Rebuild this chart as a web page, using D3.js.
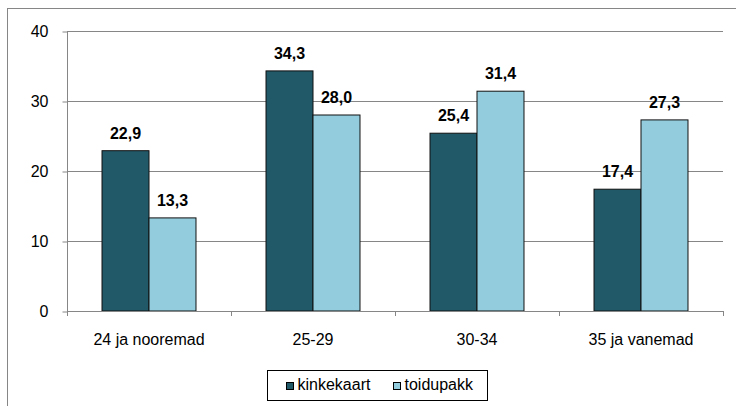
<!DOCTYPE html>
<html>
<head>
<meta charset="utf-8">
<script src="https://cdn.jsdelivr.net/npm/d3@7"></script>
<style>
  body { margin: 0; background: #fff; }
  svg text { font-family: "Liberation Sans", Arial, sans-serif; }
</style>
</head>
<body>
<div id="chart"></div>
<script>
var categories = ["24 ja nooremad", "25-29", "30-34", "35 ja vanemad"];
var seriesNames = ["kinkekaart", "toidupakk"];
var kinkekaart = [22.9, 34.3, 25.4, 17.4];
var toidupakk = [13.3, 28.0, 31.4, 27.3];
var yTicks = [0, 10, 20, 30, 40];
var colors = ["#215968", "#93CDDD"];

var width = 736, height = 406;
// plot area edges (note: "top" is reserved on window, so use a prefix)
var plotLeft = 67, plotRight = 723, plotTop = 31, plotBottom = 311;
var fontSize = 16;

var svg = d3.select("#chart").append("svg")
  .attr("width", width)
  .attr("height", height);

// outer chart border (runs off the right / bottom edge)
svg.append("rect")
  .attr("x", 7.5).attr("y", 8.5)
  .attr("width", 740).attr("height", 410)
  .attr("fill", "none")
  .attr("stroke", "#868686");

var x = d3.scaleBand().domain(categories).range([plotLeft, plotRight]);
var inner = d3.scaleBand().domain(seriesNames).range([0, x.bandwidth()]).paddingInner(0).paddingOuter(0.745);
var y = d3.scaleLinear().domain([0, 40]).range([plotBottom, plotTop]);

// gridlines
svg.selectAll("line.grid")
  .data(yTicks.filter(function(d) { return d > 0; }))
  .enter().append("line")
  .attr("class", "grid")
  .attr("x1", plotLeft).attr("x2", plotRight)
  .attr("y1", function(d) { return Math.round(y(d)) + 0.5; })
  .attr("y2", function(d) { return Math.round(y(d)) + 0.5; })
  .attr("stroke", "#868686");

// y axis
var yAxis = svg.append("g")
  .attr("transform", "translate(" + (plotLeft + 0.5) + ",0.5)")
  .call(d3.axisLeft(y).tickValues(yTicks).tickSize(5).tickPadding(14).tickFormat(d3.format("d")));
yAxis.selectAll("path, line").attr("stroke", "#868686");
yAxis.select(".domain").attr("d", "M0," + y(40) + "V" + y(0));
yAxis.selectAll("text").attr("font-size", fontSize).attr("fill", "#000");

// bars
var rows = categories.map(function(c, i) {
  return { cat: c, values: [kinkekaart[i], toidupakk[i]] };
});

var groups = svg.selectAll("g.cat")
  .data(rows)
  .enter().append("g")
  .attr("class", "cat")
  .attr("transform", function(d) { return "translate(" + x(d.cat) + ",0)"; });

groups.selectAll("rect")
  .data(function(d) { return d.values.map(function(v, j) { return { name: seriesNames[j], v: v, j: j }; }); })
  .enter().append("rect")
  .attr("x", function(d) { return inner(d.name); })
  .attr("y", function(d) { return y(d.v); })
  .attr("width", inner.bandwidth())
  .attr("height", function(d) { return y(0) - y(d.v); })
  .attr("fill", function(d) { return colors[d.j]; })
  .attr("stroke", "#111")
  .attr("stroke-width", 1);

groups.selectAll("text.val")
  .data(function(d) { return d.values.map(function(v, j) { return { name: seriesNames[j], v: v }; }); })
  .enter().append("text")
  .attr("class", "val")
  .attr("x", function(d) { return inner(d.name) + inner.bandwidth() / 2; })
  .attr("y", function(d) { return y(d.v) - 12; })
  .attr("text-anchor", "middle")
  .attr("font-size", fontSize)
  .attr("font-weight", "bold")
  .text(function(d) { return d3.format(".1f")(d.v).replace(".", ","); });

// x axis
var xAxis = svg.append("g")
  .attr("transform", "translate(0," + (Math.round(y(0)) + 0.5) + ")")
  .call(d3.axisBottom(x).tickSize(0).tickPadding(0));
xAxis.select(".domain").attr("stroke", "#868686").attr("d", "M" + plotLeft + ",0H" + plotRight);
xAxis.selectAll(".tick text").attr("font-size", fontSize).attr("fill", "#000").attr("dy", 0).attr("y", 33);
svg.selectAll("line.xtick")
  .data(categories.map(function(c) { return x(c); }).concat([plotRight]))
  .enter().append("line")
  .attr("class", "xtick")
  .attr("x1", function(d) { return Math.round(d) + 0.5; })
  .attr("x2", function(d) { return Math.round(d) + 0.5; })
  .attr("y1", Math.round(y(0))).attr("y2", Math.round(y(0)) + 5)
  .attr("stroke", "#868686");

// legend
var legend = svg.append("g").attr("transform", "translate(267.5,370.5)");
legend.append("rect")
  .attr("width", 220).attr("height", 30)
  .attr("fill", "#fff").attr("stroke", "#000");
var items = legend.selectAll("g.item")
  .data(seriesNames)
  .enter().append("g")
  .attr("class", "item")
  .attr("transform", function(d, i) { return "translate(" + (19 + i * 107) + ",12)"; });
items.append("rect")
  .attr("width", 7).attr("height", 7)
  .attr("fill", function(d, i) { return colors[i]; })
  .attr("stroke", "#000");
items.append("text")
  .attr("x", 11).attr("y", 7)
  .attr("font-size", fontSize)
  .text(function(d) { return d; });
</script>
</body>
</html>
